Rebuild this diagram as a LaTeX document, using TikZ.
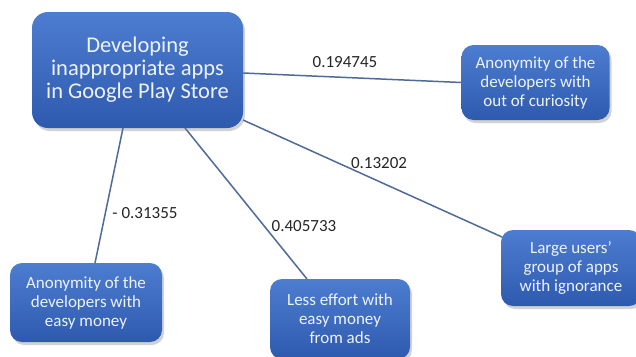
\documentclass[tikz,border=0pt]{standalone}
\usepackage{fontspec}
\setmainfont{Carlito}
\usetikzlibrary{shadows,backgrounds}
\definecolor{boxtop}{HTML}{4D7DD0}
\definecolor{boxbot}{HTML}{2E5AAE}
\definecolor{edgecol}{HTML}{4F6B98}
\definecolor{boxtext}{HTML}{EEF2FA}
\definecolor{labcol}{HTML}{262626}
\tikzset{
  box/.style={rounded corners=12pt, top color=boxtop, bottom color=boxbot,
    text=boxtext, align=center, inner sep=0pt,
    drop shadow={shadow xshift=2pt, shadow yshift=-3pt, opacity=0.35, fill=gray}},
  mainbox/.style={box, minimum width=211pt, minimum height=116pt, rounded corners=16pt,
    font=\fontsize{22.5}{23}\selectfont},
  smallbox/.style={box, font=\fontsize{17}{19}\selectfont},
  edge/.style={draw=edgecol, line width=1.5pt},
  lab/.style={text=labcol, font=\fontsize{17}{19}\selectfont, inner sep=1pt}
}
\begin{document}
\begin{tikzpicture}[x=1pt,y=-1pt]
\useasboundingbox (0,0) rectangle (636,356);
\node[mainbox] (main) at (137.5,70) {Developing\\inappropriate apps\\in Google Play Store};
\node[smallbox, minimum width=148pt, minimum height=75pt] (curio) at (535.5,82.5) {Anonymity of the\\developers with\\out of curiosity};
\node[smallbox, minimum width=140pt, minimum height=76pt] (large) at (571,268) {Large users’\\group of apps\\with ignorance};
\node[smallbox, minimum width=152pt, minimum height=79pt] (easy) at (86,302.5) {Anonymity of the\\developers with\\easy money};
\node[smallbox, minimum width=140pt, minimum height=80pt] (ads) at (340,319) {Less effort with\\easy money\\from ads};
\coordinate (m1) at (243,73);
\coordinate (m2) at (243,120);
\coordinate (m3) at (123,128);
\coordinate (m4) at (185,128);
\coordinate (e2) at (502,237);
\coordinate (e3) at (95,263);
\coordinate (e4) at (307,279);
\begin{scope}[on background layer]
\fill[white] (0,0) rectangle (636,356);
\path[edge] (m1) -- (curio.west);
\path[edge] (m2) -- (e2);
\path[edge] (m3) -- (e3);
\path[edge] (m4) -- (e4);
\end{scope}
\node[lab] (l1) at (345,62) {0.194745};
\node[lab] (l2) at (379,163) {0.13202};
\node[lab] (l3) at (145,213) {- 0.31355};
\node[lab] (l4) at (304,226) {0.405733};
\end{tikzpicture}
\end{document}
